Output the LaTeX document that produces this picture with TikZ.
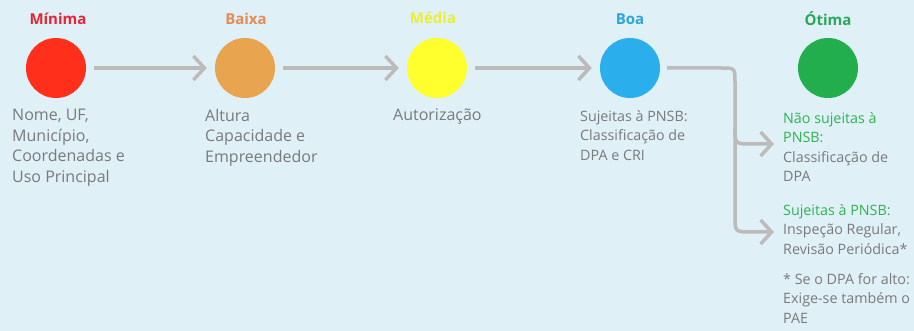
\documentclass[tikz,border=0pt]{standalone}
\usepackage{fontspec}
\setmainfont{Open Sans}
\usetikzlibrary{arrows.meta}
\definecolor{bg}{HTML}{DFF0F7}
\definecolor{cred}{HTML}{FF2F1C}
\definecolor{corange}{HTML}{E8A44E}
\definecolor{cyellow}{HTML}{FFFF2E}
\definecolor{cblue}{HTML}{2BAEEC}
\definecolor{cgreen}{HTML}{22AE4C}
\definecolor{tred}{HTML}{E52535}
\definecolor{torange}{HTML}{E58C52}
\definecolor{tyellow}{HTML}{EEEE30}
\definecolor{tblue}{HTML}{2CA5DD}
\definecolor{tgreen}{HTML}{2AA85A}
\definecolor{lgreen}{HTML}{2DB550}
\definecolor{txt}{HTML}{7A7A7A}
\definecolor{conn}{HTML}{BDBABA}
\begin{document}
\begin{tikzpicture}[x=1pt,y=-1pt,
  dot/.style={circle,minimum size=60pt,inner sep=0pt},
  ttl/.style={font=\fontsize{15}{18}\selectfont\bfseries},
  desc/.style={anchor=north west,align=left,inner sep=0pt,text=txt,font=\fontsize{16}{20.5}\selectfont},
  sdesc/.style={anchor=north west,align=left,inner sep=0pt,text=txt,font=\fontsize{14.3}{19.5}\selectfont},
  link/.style={draw=conn,line width=3.5pt,-{Straight Barb[length=11pt,width=24pt]}}
]
\fill[bg] (0,0) rectangle (914,331);
\useasboundingbox (0,0) rectangle (914,331);

\node[dot,fill=cred] (c1) at (56,68) {};
\node[dot,fill=corange] (c2) at (245,68) {};
\node[dot,fill=cyellow] (c3) at (437,68) {};
\node[dot,fill=cblue] (c4) at (630,68) {};
\node[dot,fill=cgreen] (c5) at (828,68) {};

\node[ttl,text=tred] (t1) at (58,19) {Mínima};
\node[ttl,text=torange] (t2) at (246,19) {Baixa};
\node[ttl,text=tyellow] (t3) at (433,18) {Média};
\node[ttl,text=tblue] (t4) at (630,19) {Boa};
\node[ttl,text=tgreen] (t5) at (828,19) {Ótima};

\node[desc] (d1) at (12,109) {Nome, UF,\\Município,\\Coordenadas e\\Uso Principal};
\node[desc] (d2) at (205,109) {Altura\\Capacidade e\\Empreendedor};
\node[desc] (d3) at (393,109) {Autorização};
\node[sdesc] (d4) at (580,110) {Sujeitas à PNSB:\\Classificação de\\DPA e CRI};
\node[sdesc] (d5) at (783,112) {\textcolor{lgreen}{Não sujeitas à}\\\textcolor{lgreen}{PNSB:}\\Classificação de\\DPA};
\node[sdesc] (d6) at (783,204) {\textcolor{lgreen}{Sujeitas à PNSB:}\\Inspeção Regular,\\Revisão Periódica*};
\node[sdesc] (d7) at (783,273) {* Se o DPA for alto:\\Exige-se também o\\PAE};

\coordinate (a1) at (774,144);
\coordinate (a2) at (774,232);
\coordinate (fork) at (735,128);

\draw[link,shorten <=8pt,shorten >=8pt] (c1) -- (c2);
\draw[link,shorten <=8pt,shorten >=8pt] (c2) -- (c3);
\draw[link,shorten <=8pt,shorten >=8pt] (c3) -- (c4);
\draw[link] ([xshift=7pt]c4.east) -- (721,68) .. controls (735,68) .. (735,82) -- (fork) .. controls (735,144) .. (752,144) -- (a1);
\draw[link] (fork) -- (735,216) .. controls (735,232) .. (752,232) -- (a2);
\end{tikzpicture}
\end{document}
